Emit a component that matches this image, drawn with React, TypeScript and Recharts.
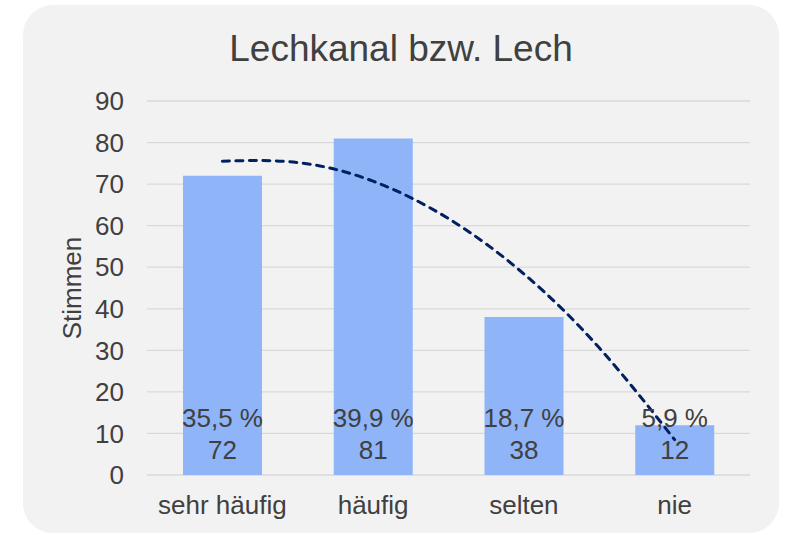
import { ComposedChart, Bar, Line, XAxis, YAxis, CartesianGrid, LabelList, Label } from 'recharts';

const categories = ['sehr häufig', 'häufig', 'selten', 'nie'];
const votes = [72, 81, 38, 12];
const shares = ['35,5 %', '39,9 %', '18,7 %', '5,9 %'];
const yTicks = [0, 10, 20, 30, 40, 50, 60, 70, 80, 90];

// trend line (polynomial) at half-category steps
const trendX = [1, 1.5, 2, 2.5, 3, 3.5, 4];
const trendY = [75.5, 75.2, 70.7, 61.7, 48.4, 30.6, 8.5];

const FONT = '"Liberation Sans", Arial, sans-serif';
const TEXT = '#404040';
const FS = 26;

const data = categories.map((name, i) => ({ name, votes: votes[i], share: shares[i] }));
const trend = trendX.map((x, i) => ({ x, t: trendY[i] }));

const BarLabel = (props: any) => {
  const { x, y, width, height, index } = props;
  const cx = Number(x) + Number(width) / 2;
  const bottom = Number(y) + Number(height);
  return (
    <g>
      <text x={cx} y={bottom - 48} textAnchor="middle" fill={TEXT} fontSize={FS} fontFamily={FONT}>
        {shares[index]}
      </text>
      <text x={cx} y={bottom - 16.4} textAnchor="middle" fill={TEXT} fontSize={FS} fontFamily={FONT}>
        {votes[index]}
      </text>
    </g>
  );
};

export default function App() {
  return (
    <div style={{ position: 'absolute', left: 0, top: 0, width: 786, height: 535, background: '#fff', overflow: 'hidden' }}>
      <div
        style={{
          position: 'absolute',
          left: 23,
          top: 5,
          width: 756,
          height: 528,
          borderRadius: 30,
          background: '#f2f2f2',
        }}
      />
      <svg width={786} height={80} style={{ position: 'absolute', left: 0, top: 0 }}>
        <text x={401} y={60.7} textAnchor="middle" fill={TEXT} fontSize={37} fontFamily={FONT}>
          Lechkanal bzw. Lech
        </text>
      </svg>
      <div style={{ position: 'absolute', left: 0, top: 0 }}>
        <ComposedChart
          width={786}
          height={535}
          data={data}
          margin={{ top: 101, right: 36, bottom: 0, left: 47 }}
        >
          <CartesianGrid vertical={false} stroke="#d9d9d9" strokeWidth={1.3} />
          <XAxis
            dataKey="name"
            height={60}
            tickSize={0}
            tickMargin={21}
            axisLine={false}
            tick={{ fill: TEXT, fontSize: FS, fontFamily: FONT }}
            interval={0}
          />
          <XAxis
            xAxisId="t"
            dataKey="x"
            type="number"
            domain={[0.5, 4.5]}
            allowDataOverflow
            hide
          />
          <YAxis
            width={100}
            domain={[0, 90]}
            ticks={yTicks}
            tickSize={0}
            tickMargin={23}
            axisLine={false}
            tick={{ fill: TEXT, fontSize: FS, fontFamily: FONT }}
          >
            <Label
              value="Stimmen"
              angle={-90}
              position="insideLeft"
              offset={25}
              style={{ textAnchor: 'middle', fill: TEXT, fontSize: FS, fontFamily: FONT }}
            />
          </YAxis>
          <Bar dataKey="votes" fill="#8fb4f8" barSize={79} isAnimationActive={false}>
            <LabelList dataKey="votes" content={BarLabel} />
          </Bar>
          <Line
            xAxisId="t"
            data={trend}
            dataKey="t"
            type="natural"
            dot={false}
            stroke="#002060"
            strokeWidth={3}
            strokeDasharray="7 6.5"
            strokeLinecap="round"
            isAnimationActive={false}
          />
        </ComposedChart>
      </div>
    </div>
  );
}
